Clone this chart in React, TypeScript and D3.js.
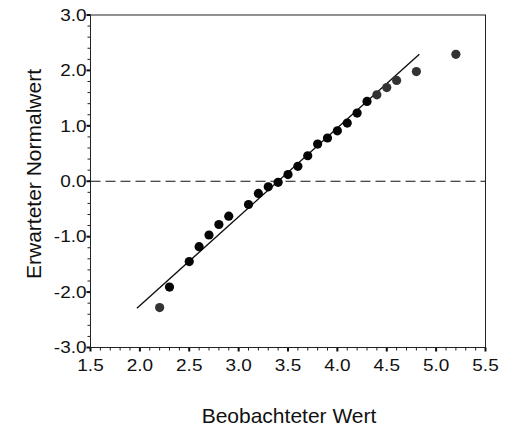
import * as d3 from "d3";
import { useEffect, useRef } from "react";

// observed values (x) and expected normal values (y)
const observed = [2.2, 2.3, 2.5, 2.6, 2.7, 2.8, 2.9, 3.1, 3.2, 3.3, 3.4, 3.5, 3.6, 3.7, 3.8, 3.9, 4.0, 4.1, 4.2, 4.3, 4.4, 4.5, 4.6, 4.8, 5.2];
const expected = [-2.28, -1.91, -1.45, -1.18, -0.97, -0.78, -0.63, -0.42, -0.22, -0.1, -0.02, 0.12, 0.27, 0.46, 0.67, 0.78, 0.91, 1.05, 1.23, 1.44, 1.56, 1.69, 1.82, 1.98, 2.29];
// points drawn in dark grey instead of black
const greyPoints = [2.2, 4.4, 4.5, 4.6, 4.8, 5.2];

// reference line end points
const lineX = [1.97, 4.83];
const lineY = [-2.29, 2.29];

const xTicks = [1.5, 2.0, 2.5, 3.0, 3.5, 4.0, 4.5, 5.0, 5.5];
const xTickLabels = ["1.5", "2.0", "2.5", "3.0", "3.5", "4.0", "4.5", "5.0", "5.5"];
const yTicks = [-3, -2, -1, 0, 1, 2, 3];
const yTickLabels = ["-3.0", "-2.0", "-1.0", "0.0", "1.0", "2.0", "3.0"];

const xTitle = "Beobachteter Wert";
const yTitle = "Erwarteter Normalwert";

const width = 514;
const height = 430;
const font = "'Liberation Sans', Arial, sans-serif";

const App = () => {
    const svgRef = useRef(null);

    useEffect(() => {
        const svg = d3.select(svgRef.current);
        svg.selectAll("*").remove();

        const x = d3.scaleLinear().domain([1.5, 5.5]).range([90.5, 485.5]);
        const y = d3.scaleLinear().domain([-3, 3]).range([347.5, 15]);

        const [x0, x1] = x.range();
        const [y0, y1] = y.range();

        // minor ticks
        const xMinor = d3.range(15, 56).map((d) => d / 10);
        const yMinor = d3.range(-15, 16).map((d) => d / 5);

        svg.append("g")
            .selectAll("line")
            .data(xMinor)
            .join("line")
            .attr("x1", (d) => x(d))
            .attr("x2", (d) => x(d))
            .attr("y1", y0)
            .attr("y2", y0 + 3)
            .attr("stroke", "#222")
            .attr("stroke-width", 1);

        svg.append("g")
            .selectAll("line")
            .data(yMinor)
            .join("line")
            .attr("x1", x0 - 3)
            .attr("x2", x0)
            .attr("y1", (d) => y(d))
            .attr("y2", (d) => y(d))
            .attr("stroke", "#222")
            .attr("stroke-width", 1);

        // major ticks (slightly heavier)
        svg.append("g")
            .selectAll("line")
            .data(xTicks)
            .join("line")
            .attr("x1", (d) => x(d))
            .attr("x2", (d) => x(d))
            .attr("y1", y0)
            .attr("y2", y0 + 4)
            .attr("stroke", "#111")
            .attr("stroke-width", 2);

        svg.append("g")
            .selectAll("line")
            .data(yTicks)
            .join("line")
            .attr("x1", x0 - 4)
            .attr("x2", x0)
            .attr("y1", (d) => y(d))
            .attr("y2", (d) => y(d))
            .attr("stroke", "#111")
            .attr("stroke-width", 2);

        // frame
        svg.append("rect")
            .attr("x", x0)
            .attr("y", y1)
            .attr("width", x1 - x0)
            .attr("height", y0 - y1)
            .attr("fill", "none")
            .attr("stroke", "#222")
            .attr("stroke-width", 1);

        // tick labels
        svg.append("g")
            .selectAll("text")
            .data(xTicks)
            .join("text")
            .attr("transform", (d) => `translate(${x(d)},${y0 + 23.5}) scale(1.15,1)`)
            .attr("text-anchor", "middle")
            .attr("font-family", font)
            .attr("font-size", 16.5)
            .attr("fill", "#111")
            .text((d, i) => xTickLabels[i]);

        svg.append("g")
            .selectAll("text")
            .data(yTicks)
            .join("text")
            .attr("transform", (d) => `translate(${x0 - 4},${y(d) + 5.8}) scale(1.15,1)`)
            .attr("text-anchor", "end")
            .attr("font-family", font)
            .attr("font-size", 16.5)
            .attr("fill", "#111")
            .text((d, i) => yTickLabels[i]);

        // zero reference line
        svg.append("line")
            .attr("x1", x0)
            .attr("x2", x1)
            .attr("y1", y(0))
            .attr("y2", y(0))
            .attr("stroke", "#111")
            .attr("stroke-width", 1)
            .attr("stroke-dasharray", "10,5");

        // fitted line
        const line = d3
            .line()
            .x((d) => x(d[0]))
            .y((d) => y(d[1]));

        svg.append("path")
            .datum(lineX.map((d, i) => [d, lineY[i]]))
            .attr("fill", "none")
            .attr("stroke", "#111")
            .attr("stroke-width", 1.4)
            .attr("d", line);

        // points
        svg.append("g")
            .selectAll("circle")
            .data(observed.map((d, i) => ({ x: d, y: expected[i] })))
            .join("circle")
            .attr("cx", (d) => x(d.x))
            .attr("cy", (d) => y(d.y))
            .attr("r", 4.6)
            .attr("fill", (d) => (greyPoints.includes(d.x) ? "#333" : "#050505"));

        // axis titles
        svg.append("text")
            .attr("x", 289)
            .attr("y", 423)
            .attr("text-anchor", "middle")
            .attr("font-family", font)
            .attr("font-size", 21)
            .attr("fill", "#111")
            .text(xTitle);

        svg.append("text")
            .attr("transform", "translate(41,174) rotate(-90)")
            .attr("text-anchor", "middle")
            .attr("font-family", font)
            .attr("font-size", 21)
            .attr("fill", "#111")
            .text(yTitle);
    }, []);

    return (
        <svg
            ref={svgRef}
            width={width}
            height={height}
            style={{ position: "absolute", left: 0, top: 0, background: "#fff" }}
        />
    );
};

export default App;
